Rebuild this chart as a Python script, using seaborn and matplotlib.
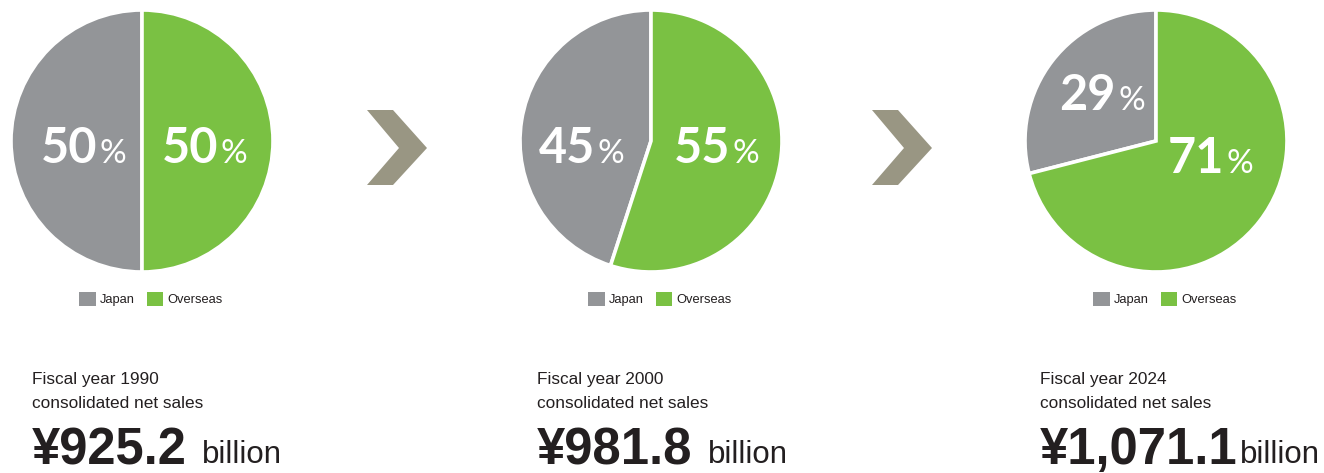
import matplotlib
matplotlib.use("Agg")
import matplotlib.pyplot as plt
from matplotlib.patches import Patch, Polygon
import seaborn as sns

# Sales split between Japan and overseas markets
years = [1990, 2000, 2024]
regions = ["Japan", "Overseas"]
japan_share = [50, 45, 29]
overseas_share = [50, 55, 71]
net_sales_billion_yen = [925.2, 981.8, 1071.1]

W, H = 1324, 473
sns.set_theme(style="white")
plt.rcParams["font.family"] = ["Liberation Sans", "DejaVu Sans"]

colors = ["#939598", "#7ac143"]
chevron_color = "#999683"
text_color = "#231f20"
pct_font = ["Lato", "DejaVu Sans"]

fig = plt.figure(figsize=(W / 100, H / 100), dpi=100)
fig.patch.set_facecolor("white")

# full-figure overlay in pixel units for the captions and arrows
bg = fig.add_axes([0, 0, 1, 1], zorder=0)
bg.set_xlim(0, W)
bg.set_ylim(H, 0)
bg.axis("off")

R = 131
pie_centers = [(142, 141), (651, 141), (1156, 141)]
# where the number ends and the % sign begins, in pie-radius units
label_anchor = [
    [(-0.336, -0.168), (0.592, -0.168)],
    [(-0.416, -0.168), (0.615, -0.168)],
    [(-0.298, 0.237), (0.527, -0.244)],
]
text_left = [32, 537, 1040]
value_gap = [11, 11, 2]

for i, year in enumerate(years):
    cx, cy = pie_centers[i]
    ax = fig.add_axes([(cx - R) / W, 1 - (cy + R) / H, 2 * R / W, 2 * R / H], zorder=1)
    shares = [japan_share[i], overseas_share[i]]
    ax.pie(shares, colors=colors, startangle=90, counterclock=True, radius=1,
           wedgeprops=dict(edgecolor="white", linewidth=2.6))
    ax.set_xlim(-1, 1)
    ax.set_ylim(-1, 1)
    ax.set_aspect("equal")
    ax.axis("off")

    for (lx, ly), v in zip(label_anchor[i], shares):
        ax.text(lx - 0.008, ly, f"{v}", ha="right", va="baseline", color="white",
                fontsize=35, fontweight="bold", family=pct_font)
        ax.text(lx + 0.008, ly, "%", ha="left", va="baseline", color="white",
                fontsize=24, fontweight="normal", family=pct_font)

    handles = [Patch(facecolor=c, edgecolor="none", label=r) for c, r in zip(colors, regions)]
    leg = ax.legend(handles=handles, loc="center", bbox_to_anchor=(0.534, -0.103), ncol=2,
                    frameon=False, fontsize=9.3, handlelength=1.3, handleheight=1.3,
                    handletextpad=0.35, columnspacing=0.9, borderpad=0, borderaxespad=0)
    for t in leg.get_texts():
        t.set_color(text_color)

    x0 = text_left[i]
    bg.text(x0, 384, f"Fiscal year {year}", ha="left", va="baseline",
            fontsize=12.4, color=text_color)
    bg.text(x0, 408, "consolidated net sales", ha="left", va="baseline",
            fontsize=12.4, color=text_color)
    num = bg.text(x0, 464, f"¥{net_sales_billion_yen[i]:,.1f}", ha="left", va="baseline",
                  fontsize=36.5, fontweight="bold", color=text_color)
    bg.annotate("billion", xy=(1, 0), xycoords=num, xytext=(value_gap[i], 3.5),
                textcoords="offset points", ha="left", va="bottom",
                fontsize=22.5, color=text_color)

# arrows between the years
chevron = [(367, 110), (393, 110), (427, 148), (393, 185), (367, 185), (399, 148)]
for dx in (0, 505):
    bg.add_patch(Polygon([(x + dx, y) for x, y in chevron], closed=True,
                         facecolor=chevron_color, edgecolor="none"))

fig.savefig("out.png", dpi=100, facecolor="white")
